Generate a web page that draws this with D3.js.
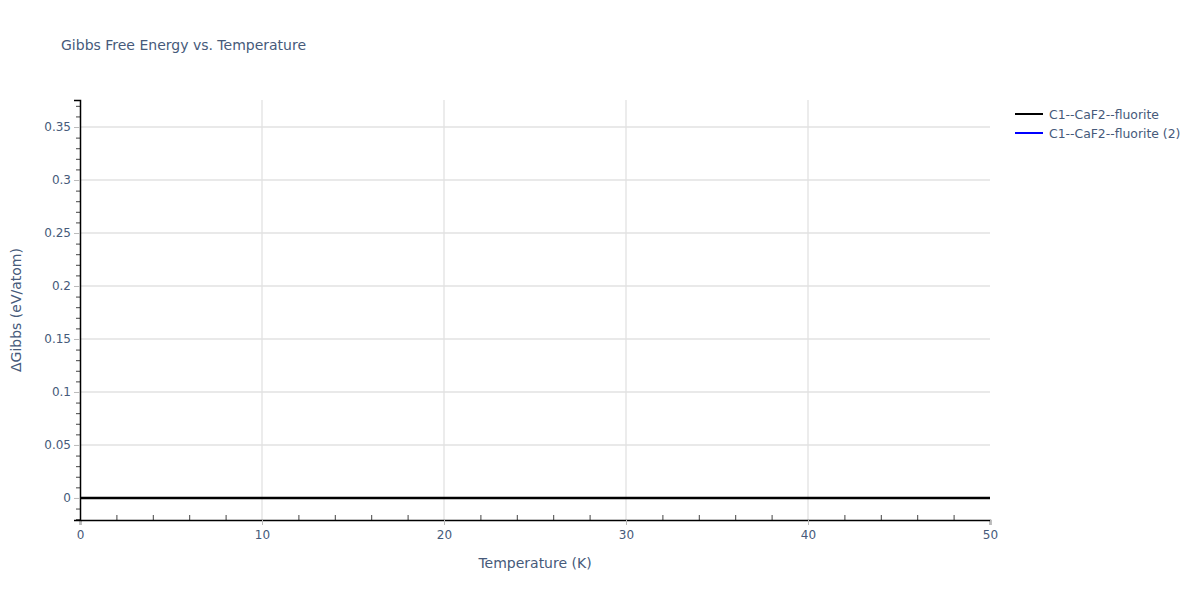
<!DOCTYPE html>
<html>
<head>
<meta charset="utf-8">
<script src="https://cdn.jsdelivr.net/npm/d3@7/dist/d3.min.js"></script>
<style>
  body { margin: 0; background: #fff; }
  text { font-family: "DejaVu Sans", verdana, arial, sans-serif; }
</style>
</head>
<body>
<svg id="chart" width="1200" height="600"></svg>
<script>
// chart values
var temperatures = [0, 10, 20, 30, 40, 50];
var gibbsFluorite = [0, 0, 0, 0, 0, 0];
var gibbsFluorite2 = [0, 0, 0, 0, 0, 0];
var seriesNames = ["C1--CaF2--fluorite", "C1--CaF2--fluorite (2)"];
var seriesColors = ["#000000", "#0000ff"];
var xTicks = [0, 10, 20, 30, 40, 50];
var yTicks = [0, 0.05, 0.1, 0.15, 0.2, 0.25, 0.3, 0.35];

var margin = {left: 80, right: 210, top: 100, bottom: 80},
	width = 1200 - margin.left - margin.right,
	height = 600 - margin.top - margin.bottom,
	textColor = "#465a7a";

var svg = d3.select("#chart");

var x = d3.scaleLinear().domain([0, 50]).range([0, width]);
var y = d3.scaleLinear().domain([-0.0208, 0.3755]).range([height, 0]);

var g = svg.append("g")
	.attr("transform", "translate(" + margin.left + "," + margin.top + ")");

// grid
g.append("g").selectAll("line")
	.data(xTicks.filter(function(d) { return d > 0 && d < 50; }))
	.enter().append("line")
	.attr("x1", x).attr("x2", x)
	.attr("y1", 0).attr("y2", height)
	.attr("stroke", "#d9d9d9").attr("stroke-width", 1);

g.append("g").selectAll("line")
	.data(yTicks)
	.enter().append("line")
	.attr("x1", 0).attr("x2", width)
	.attr("y1", y).attr("y2", y)
	.attr("stroke", "#e2e2e2").attr("stroke-width", 1.5);

// series: blue first so the black one lies over it and hides it
var line = d3.line()
	.x(function(d, i) { return x(temperatures[i]); })
	.y(function(d) { return y(d); });

[gibbsFluorite2, gibbsFluorite].forEach(function(values, k) {
	g.append("path")
		.datum(values)
		.attr("d", line)
		.attr("fill", "none")
		.attr("stroke", seriesColors[1 - k])
		.attr("stroke-width", k === 0 ? 1.5 : 2.4);
});

// minor ticks
var xMinor = d3.range(0, 50.001, 2).filter(function(d) { return d % 10 !== 0; });
g.append("g")
	.attr("transform", "translate(0," + height + ")")
	.call(d3.axisBottom(x).tickValues(xMinor).tickSize(-5).tickFormat(""))
	.call(function(a) {
		a.select(".domain").remove();
		a.selectAll("line").attr("stroke", "#444");
	});

var yMinor = d3.range(-0.02, 0.3755, 0.01).filter(function(d) {
	return Math.abs(Math.round(d * 100) % 5) !== 0;
});
g.append("g")
	.call(d3.axisLeft(y).tickValues(yMinor).tickSize(4).tickFormat(""))
	.call(function(a) {
		a.select(".domain").remove();
		a.selectAll("line").attr("stroke", "#444");
	});

// major axes
var xAxis = g.append("g")
	.attr("transform", "translate(0," + height + ")")
	.call(d3.axisBottom(x).tickValues(xTicks).tickSize(5).tickPadding(5).tickFormat(d3.format("d")));
xAxis.select(".domain").attr("stroke", "#000").attr("stroke-width", 1.5);
xAxis.selectAll("line").attr("stroke", "#bbb");
xAxis.selectAll("text").attr("fill", textColor).style("font-size", "12px");

var yAxis = g.append("g")
	.call(d3.axisLeft(y).tickValues(yTicks).tickSize(6).tickPadding(3)
		.tickFormat(function(d) { return d === 0 ? "0" : d3.format("~g")(+d.toFixed(2)); }));
yAxis.select(".domain").attr("stroke", "#000").attr("stroke-width", 1.5);
yAxis.selectAll("line").attr("stroke", "#bbb");
yAxis.selectAll("text").attr("fill", textColor).style("font-size", "12px");

// titles
svg.append("text")
	.attr("x", 61).attr("y", 50)
	.attr("fill", textColor)
	.style("font-size", "14px")
	.text("Gibbs Free Energy vs. Temperature");

svg.append("text")
	.attr("x", margin.left + width / 2).attr("y", 568)
	.attr("text-anchor", "middle")
	.attr("fill", textColor)
	.style("font-size", "14px")
	.text("Temperature (K)");

svg.append("text")
	.attr("transform", "translate(21," + (margin.top + height / 2) + ") rotate(-90)")
	.attr("text-anchor", "middle")
	.attr("fill", textColor)
	.style("font-size", "14px")
	.text("\u0394Gibbs (eV/atom)");

// legend
var legend = svg.append("g").attr("transform", "translate(1015,114)");
seriesNames.forEach(function(name, i) {
	var row = legend.append("g").attr("transform", "translate(0," + (i * 19) + ")");
	row.append("line")
		.attr("x1", 0).attr("x2", 28)
		.attr("stroke", seriesColors[i]).attr("stroke-width", 2);
	row.append("text")
		.attr("x", 34).attr("y", 4.5)
		.attr("fill", textColor)
		.style("font-size", "12.4px")
		.text(name);
});
</script>
</body>
</html>
